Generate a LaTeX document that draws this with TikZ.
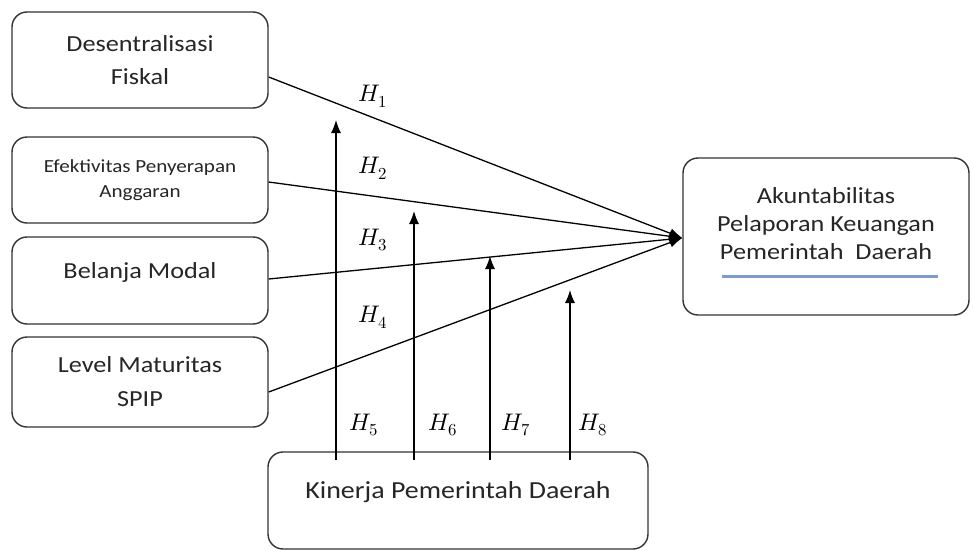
\documentclass[tikz,border=0pt]{standalone}
\usepackage{fontspec}
\usepackage{unicode-math}
\setmainfont{Carlito}[FakeStretch=1.14]
\setmathfont{Latin Modern Math}
\usetikzlibrary{arrows.meta}
\begin{document}
\begin{tikzpicture}[x=1pt,y=-1pt,
  box/.style={draw=black!80,line width=1.4pt,rounded corners=15pt,inner sep=0pt,align=center,
    font=\fontsize{23}{33}\selectfont,text=black!85},
  conn/.style={line width=1.3pt,-{Latex[length=13pt,width=10pt]}},
  hlab/.style={font=\fontsize{24}{24}\selectfont,text=black}]
\useasboundingbox (0,0) rectangle (973,549);
\fill[white] (0,0) rectangle (973,549);
% left boxes
\node[box,minimum width=256pt,minimum height=96pt] (b1) at (140,60) {Desentralisasi\\Fiskal};
\node[box,minimum width=256pt,minimum height=86pt,font=\fontsize{18.5}{25}\selectfont] (b2) at (140,180) {Efektivitas Penyerapan\\Anggaran};
\node[box,minimum width=256pt,minimum height=87pt] (b3) at (140,280.5) {\raisebox{8pt}[\height][\depth]{Belanja Modal}};
\node[box,minimum width=256pt,minimum height=90pt,font=\fontsize{23}{34}\selectfont] (b4) at (140,382) {Level Maturitas\\SPIP};
% right box
\node[box,minimum width=286pt,minimum height=157pt,font=\fontsize{23}{28}\selectfont] (rb) at (826,236.5)
  {\raisebox{11pt}[\height][\depth]{\begin{tabular}{@{}c@{}}Akuntabilitas\\[0pt]Pelaporan Keuangan\\[0pt]Pemerintah\ \ Daerah\end{tabular}}};
\draw[line width=3pt,color={rgb,255:red,123;green,155;blue,209}] (722,276.5) -- (938,276.5);
% bottom box
\node[box,minimum width=380pt,minimum height=97pt,font=\fontsize{24.5}{30}\selectfont] (kb) at (458,500.5)
  {\raisebox{8pt}[\height][\depth]{Kinerja Pemerintah Daerah}};
% converging connectors
\coordinate (hub) at ([yshift=-1.5pt]rb.west);
\draw[conn] ([yshift=-17pt]b1.east) -- (hub);
\draw[conn] ([yshift=-2pt]b2.east) -- (hub);
\draw[conn] ([yshift=1.5pt]b3.east) -- (hub);
\draw[conn] ([yshift=-10pt]b4.east) -- (hub);
% vertical moderators
\coordinate (s5) at (336,460); \coordinate (e5) at (336,120);
\coordinate (s6) at (414,460); \coordinate (e6) at (414,211);
\coordinate (s7) at (490,460); \coordinate (e7) at (490,256);
\coordinate (s8) at (570,460); \coordinate (e8) at (570,290);
\draw[conn] (s5) -- (e5);
\draw[conn] (s6) -- (e6);
\draw[conn] (s7) -- (e7);
\draw[conn] (s8) -- (e8);
% labels
\node[hlab] (h1) at (373,96) {$H_1$};
\node[hlab] (h2) at (373,168) {$H_2$};
\node[hlab] (h3) at (373,240) {$H_3$};
\node[hlab] (h4) at (373,317) {$H_4$};
\node[hlab] (h5) at (364,425) {$H_5$};
\node[hlab] (h6) at (443,425) {$H_6$};
\node[hlab] (h7) at (516,425) {$H_7$};
\node[hlab] (h8) at (593,425) {$H_8$};
\end{tikzpicture}
\end{document}
